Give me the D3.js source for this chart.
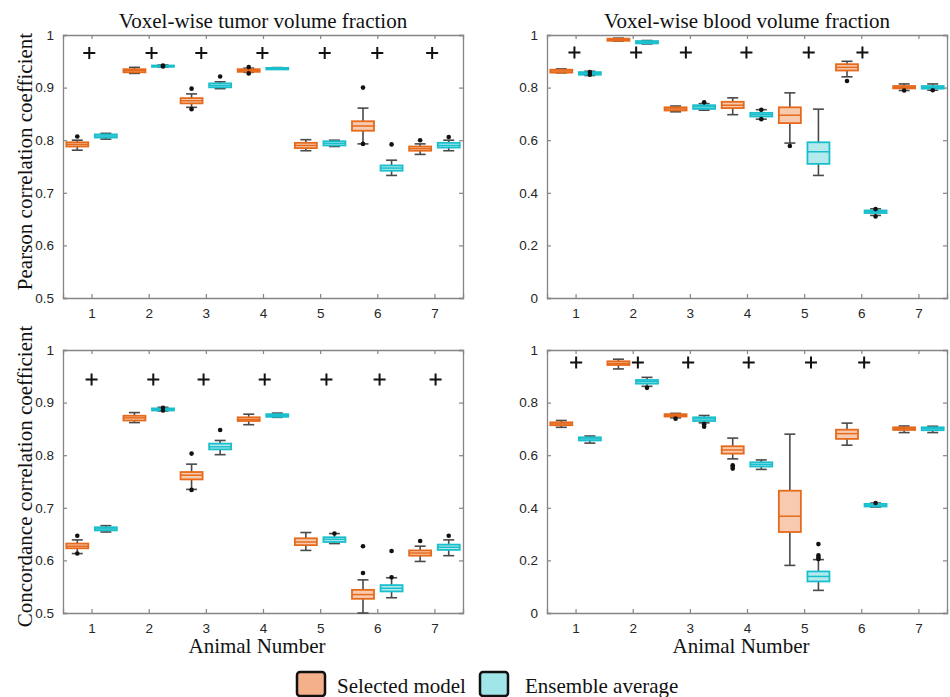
<!DOCTYPE html>
<html><head><meta charset="utf-8">
<script src="https://cdn.jsdelivr.net/npm/d3@7/dist/d3.min.js"></script>
<style>body{margin:0;background:#fff}</style>
</head><body><svg id="c" width="950" height="697"></svg>
<script>
// ---------- DATA ----------
const animals = [1, 2, 3, 4, 5, 6, 7];
const xTickLabels = ["1", "2", "3", "4", "5", "6", "7"];
const tumorTicks = [0.5, 0.6, 0.7, 0.8, 0.9, 1];
const tumorTickLabels = ["0.5", "0.6", "0.7", "0.8", "0.9", "1"];
const bloodTicks = [0, 0.2, 0.4, 0.6, 0.8, 1];
const bloodTickLabels = ["0", "0.2", "0.4", "0.6", "0.8", "1"];
const seriesNames = ["Selected model", "Ensemble average"];

// box stats: [lower whisker, q1, median, q3, upper whisker]
const pearsonTumorSelected = [
  [0.781, 0.788, 0.792, 0.796, 0.800],
  [0.927, 0.929, 0.932, 0.935, 0.9385],
  [0.8625, 0.870, 0.875, 0.880, 0.888],
  [0.929, 0.930, 0.933, 0.935, 0.937],
  [0.780, 0.785, 0.790, 0.795, 0.801],
  [0.793, 0.818, 0.827, 0.836, 0.861],
  [0.773, 0.780, 0.784, 0.788, 0.793]
];
const pearsonTumorSelectedOutliers = [[0.807], [], [0.898, 0.859], [0.939, 0.927], [], [0.900, 0.793], [0.800]];
const pearsonTumorEnsemble = [
  [0.802, 0.805, 0.808, 0.811, 0.813],
  [0.939, 0.9395, 0.941, 0.942, 0.943],
  [0.898, 0.9005, 0.904, 0.908, 0.911],
  [0.935, 0.9345, 0.936, 0.9375, 0.938],
  [0.788, 0.790, 0.794, 0.798, 0.800],
  [0.733, 0.742, 0.747, 0.752, 0.762],
  [0.780, 0.786, 0.790, 0.795, 0.800]
];
const pearsonTumorEnsembleOutliers = [[], [0.942, 0.940], [0.921], [], [], [0.792], [0.806]];

const pearsonBloodSelected = [
  [0.856, 0.857, 0.863, 0.868, 0.871],
  [0.977, 0.978, 0.982, 0.986, 0.988],
  [0.708, 0.713, 0.719, 0.725, 0.730],
  [0.697, 0.722, 0.733, 0.746, 0.761],
  [0.589, 0.665, 0.695, 0.725, 0.780],
  [0.841, 0.865, 0.877, 0.889, 0.900],
  [0.789, 0.797, 0.801, 0.806, 0.814]
];
const pearsonBloodSelectedOutliers = [[], [], [], [], [0.578], [0.825], [0.789]];
const pearsonBloodEnsemble = [
  [0.846, 0.849, 0.854, 0.859, 0.862],
  [0.966, 0.968, 0.973, 0.977, 0.979],
  [0.714, 0.719, 0.727, 0.733, 0.739],
  [0.680, 0.690, 0.697, 0.704, 0.716],
  [0.466, 0.510, 0.556, 0.592, 0.718],
  [0.314, 0.323, 0.328, 0.333, 0.339],
  [0.790, 0.796, 0.801, 0.806, 0.814]
];
const pearsonBloodEnsembleOutliers = [[0.859, 0.849], [], [0.744], [0.716, 0.680], [], [0.338, 0.310], [0.790]];

const cccTumorSelected = [
  [0.613, 0.623, 0.627, 0.632, 0.639],
  [0.862, 0.866, 0.871, 0.875, 0.881],
  [0.735, 0.754, 0.762, 0.768, 0.783],
  [0.858, 0.865, 0.868, 0.872, 0.878],
  [0.619, 0.629, 0.635, 0.642, 0.653],
  [0.500, 0.527, 0.535, 0.544, 0.563],
  [0.598, 0.609, 0.614, 0.619, 0.627]
];
const cccTumorSelectedOutliers = [[0.647, 0.613], [], [0.803, 0.734], [], [], [0.576, 0.627], [0.637]];
const cccTumorEnsemble = [
  [0.654, 0.657, 0.660, 0.663, 0.666],
  [0.884, 0.885, 0.887, 0.889, 0.891],
  [0.801, 0.811, 0.816, 0.822, 0.828],
  [0.872, 0.873, 0.876, 0.878, 0.880],
  [0.632, 0.635, 0.640, 0.644, 0.651],
  [0.529, 0.541, 0.547, 0.553, 0.567],
  [0.609, 0.620, 0.625, 0.630, 0.639]
];
const cccTumorEnsembleOutliers = [[], [0.890, 0.885], [0.848], [], [0.651], [0.618, 0.568], [0.647]];

const cccBloodSelected = [
  [0.706, 0.714, 0.719, 0.725, 0.732],
  [0.928, 0.943, 0.949, 0.957, 0.965],
  [0.742, 0.747, 0.751, 0.756, 0.759],
  [0.586, 0.606, 0.620, 0.634, 0.665],
  [0.181, 0.308, 0.368, 0.465, 0.680],
  [0.638, 0.662, 0.682, 0.697, 0.722],
  [0.686, 0.696, 0.701, 0.706, 0.711]
];
const cccBloodSelectedOutliers = [[], [], [0.739], [0.562, 0.556, 0.549], [], [], []];
const cccBloodEnsemble = [
  [0.646, 0.656, 0.662, 0.668, 0.673],
  [0.862, 0.872, 0.880, 0.886, 0.896],
  [0.723, 0.730, 0.738, 0.744, 0.751],
  [0.546, 0.557, 0.565, 0.573, 0.582],
  [0.086, 0.120, 0.139, 0.158, 0.203],
  [0.403, 0.405, 0.410, 0.415, 0.418],
  [0.686, 0.695, 0.701, 0.706, 0.710]
];
const cccBloodEnsembleOutliers = [[], [0.856], [0.718, 0.708], [], [0.262, 0.219, 0.211, 0.205], [0.418], []];

// "+" markers: [animal position, value]
const pearsonTumorPlus = [[0.96, 0.966], [2.05, 0.966], [2.92, 0.966], [3.99, 0.966], [5.08, 0.966], [6.0, 0.966], [6.96, 0.966]];
const pearsonBloodPlus = [[0.98, 0.933], [2.06, 0.933], [2.93, 0.933], [3.99, 0.933], [5.08, 0.933], [6.02, 0.933]];
const cccTumorPlus = [[1.0, 0.944], [2.08, 0.944], [2.96, 0.944], [4.03, 0.944], [5.11, 0.944], [6.04, 0.944], [7.02, 0.944]];
const cccBloodPlus = [[1.01, 0.952], [2.09, 0.952], [2.97, 0.952], [4.03, 0.952], [5.12, 0.952], [6.05, 0.952]];

// ---------- STYLE / LAYOUT ----------
const serif = "'Liberation Serif', 'Times New Roman', serif";
const sans = "'Liberation Sans', Arial, Helvetica, sans-serif";
const colors = {
  sel: { stroke: "#e56a1c", fill: "#f8cbb0", legend: "#f4b08a" },
  ens: { stroke: "#19bfcc", fill: "#b4eaee", legend: "#a0e6e8" }
};
const frameColor = "#858585";
const whiskerColor = "#4a4a4a";

const panels = [
  { x0: 63, y0: 35, title: "Voxel-wise tumor volume fraction", ylabel: "Pearson correlation coefficient",
    domain: [0.5, 1], ticks: tumorTicks, tickLabels: tumorTickLabels,
    sel: pearsonTumorSelected, selOut: pearsonTumorSelectedOutliers,
    ens: pearsonTumorEnsemble, ensOut: pearsonTumorEnsembleOutliers, plus: pearsonTumorPlus },
  { x0: 547, y0: 35, title: "Voxel-wise blood volume fraction",
    domain: [0, 1], ticks: bloodTicks, tickLabels: bloodTickLabels,
    sel: pearsonBloodSelected, selOut: pearsonBloodSelectedOutliers,
    ens: pearsonBloodEnsemble, ensOut: pearsonBloodEnsembleOutliers, plus: pearsonBloodPlus },
  { x0: 63, y0: 350, ylabel: "Concordance correlation coefficient", xlabel: "Animal Number",
    domain: [0.5, 1], ticks: tumorTicks, tickLabels: tumorTickLabels,
    sel: cccTumorSelected, selOut: cccTumorSelectedOutliers,
    ens: cccTumorEnsemble, ensOut: cccTumorEnsembleOutliers, plus: cccTumorPlus },
  { x0: 547, y0: 350, xlabel: "Animal Number",
    domain: [0, 1], ticks: bloodTicks, tickLabels: bloodTickLabels,
    sel: cccBloodSelected, selOut: cccBloodSelectedOutliers,
    ens: cccBloodEnsemble, ensOut: cccBloodEnsembleOutliers, plus: cccBloodPlus }
];
const W = 400, H = 263;
const boxOffset = 0.25, boxWidth = 0.385;

const svg = d3.select("#c");

panels.forEach(p => {
  const g = svg.append("g").attr("transform", `translate(${p.x0},${p.y0})`);
  const x = d3.scaleLinear().domain([0.5, 7.5]).range([0, W]);
  const y = d3.scaleLinear().domain(p.domain).range([H, 0]);
  const bw = x(1 + boxWidth) - x(1);

  // axes (inner ticks, mirrored)
  const axB = d3.axisBottom(x).tickValues(animals).tickSize(-4).tickPadding(10)
    .tickFormat((d, i) => xTickLabels[i]);
  const axT = d3.axisTop(x).tickValues(animals).tickSize(-4).tickFormat("");
  const axL = d3.axisLeft(y).tickValues(p.ticks).tickSize(-4).tickPadding(9)
    .tickFormat((d, i) => p.tickLabels[i]);
  const axR = d3.axisRight(y).tickValues(p.ticks).tickSize(-4).tickFormat("");
  const styleAxis = sel => {
    sel.selectAll("path.domain").attr("stroke", frameColor).attr("stroke-width", 1.3);
    sel.selectAll(".tick line").attr("stroke", frameColor).attr("stroke-width", 1.2);
    sel.selectAll(".tick text").attr("fill", "#262626").style("font-family", sans).style("font-size", "13.5px");
  };
  g.append("g").attr("transform", `translate(0,${H})`).call(axB).call(styleAxis);
  g.append("g").call(axT).call(styleAxis);
  g.append("g").call(axL).call(styleAxis);
  g.append("g").attr("transform", `translate(${W},0)`).call(axR).call(styleAxis);

  const series = [
    { stats: p.sel, out: p.selOut, off: -boxOffset, c: colors.sel },
    { stats: p.ens, out: p.ensOut, off: boxOffset, c: colors.ens }
  ];
  series.forEach(s => {
    const sg = g.append("g");
    s.stats.forEach((st, i) => {
      const cx = x(animals[i] + s.off);
      const [lo, q1, med, q3, hi] = st;
      // whiskers
      sg.append("line").attr("x1", cx).attr("x2", cx).attr("y1", y(hi)).attr("y2", y(q3))
        .attr("stroke", whiskerColor).attr("stroke-width", 1.6);
      sg.append("line").attr("x1", cx).attr("x2", cx).attr("y1", y(q1)).attr("y2", y(lo))
        .attr("stroke", whiskerColor).attr("stroke-width", 1.6);
      [hi, lo].forEach(v => sg.append("line")
        .attr("x1", cx - bw / 4).attr("x2", cx + bw / 4).attr("y1", y(v)).attr("y2", y(v))
        .attr("stroke", whiskerColor).attr("stroke-width", 1.6));
      // box
      sg.append("rect").attr("x", cx - bw / 2).attr("width", bw)
        .attr("y", y(q3)).attr("height", Math.max(y(q1) - y(q3), 0.5))
        .attr("fill", s.c.fill).attr("stroke", s.c.stroke).attr("stroke-width", 1.8);
      sg.append("line").attr("x1", cx - bw / 2).attr("x2", cx + bw / 2).attr("y1", y(med)).attr("y2", y(med))
        .attr("stroke", s.c.stroke).attr("stroke-width", 1.5);
      // outliers
      s.out[i].forEach(v => sg.append("circle").attr("cx", cx).attr("cy", y(v)).attr("r", 2.3).attr("fill", "#111"));
    });
  });

  // plus markers
  p.plus.forEach(([a, v]) => {
    const px = x(a), py = y(v);
    g.append("path").attr("d", `M${px - 6},${py}H${px + 6}M${px},${py - 6}V${py + 6}`)
      .attr("stroke", "#111").attr("stroke-width", 2);
  });

  if (p.title) g.append("text").attr("x", W / 2).attr("y", -7).attr("text-anchor", "middle")
    .style("font-family", serif).style("font-size", "21px").attr("fill", "#111").text(p.title);
  if (p.ylabel) g.append("text").attr("transform", `translate(${-31.5},${H / 2 - 5}) rotate(-90)`)
    .attr("text-anchor", "middle").style("font-family", serif).style("font-size", "21px").attr("fill", "#111").text(p.ylabel);
  if (p.xlabel) g.append("text").attr("x", W / 2 - 6).attr("y", H + 40).attr("text-anchor", "middle")
    .style("font-family", serif).style("font-size", "21px").attr("fill", "#111").text(p.xlabel);
});

// legend
const legend = svg.append("g");
const legendItems = [
  { name: seriesNames[0], c: colors.sel, x: 297 },
  { name: seriesNames[1], c: colors.ens, x: 480 }
];
legendItems.forEach(it => {
  legend.append("rect").attr("x", it.x).attr("y", 672).attr("width", 28).attr("height", 24).attr("rx", 3)
    .attr("fill", it.c.legend).attr("stroke", "#111").attr("stroke-width", 2.5);
  legend.append("text").attr("x", it.x + 40 + (it.x > 400 ? 5 : 0)).attr("y", 693)
    .style("font-family", serif).style("font-size", "21px").attr("fill", "#111").text(it.name);
});
</script></body></html>
